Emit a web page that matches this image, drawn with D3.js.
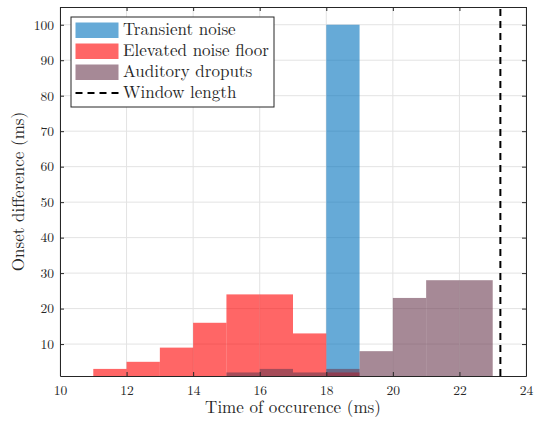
<!DOCTYPE html>
<html>
<head>
<meta charset="utf-8">
<script src="https://cdn.jsdelivr.net/npm/d3@7"></script>
<style>
  body { margin: 0; background: #fff; }
  svg text { font-family: "Latin Modern Roman", "Liberation Serif", serif; fill: #262626; }
</style>
</head>
<body>
<svg id="chart" width="534" height="422"></svg>
<script>
// histogram bins (bin start, bin end, value)
const transientBins = [[18, 19, 100]];
const elevatedBins = [[11, 12, 3], [12, 13, 5], [13, 14, 9], [14, 15, 16], [15, 16, 24], [16, 17, 24], [17, 18, 13], [18, 19, 2]];
const dropoutBins = [[15, 16, 2], [16, 17, 3], [17, 18, 2], [18, 19, 3], [19, 20, 8], [20, 21, 23], [21, 22, 28], [22, 23, 28]];
const windowLength = 23.23;
const xTicks = [10, 12, 14, 16, 18, 20, 22, 24];
const yTicks = [10, 20, 30, 40, 50, 60, 70, 80, 90, 100];
const legendNames = ["Transient noise", "Elevated noise floor", "Auditory droputs", "Window length"];

const FONT = '"Latin Modern Roman", "Liberation Serif", serif';
const margin = {left: 60, right: 8, top: 7, bottom: 46};
const width = 534, height = 422;

const svg = d3.select("#chart");

const x = d3.scaleLinear().domain([10, 24]).range([margin.left, width - margin.right]);
const y = d3.scaleLinear().domain([1, 105]).range([height - margin.bottom, margin.top]);

//grid
svg.append("g")
  .selectAll("line")
  .data(xTicks)
  .join("line")
    .attr("x1", d => x(d)).attr("x2", d => x(d))
    .attr("y1", y(1)).attr("y2", y(105))
    .attr("stroke", "#e3e3e3").attr("stroke-width", 1);
svg.append("g")
  .selectAll("line")
  .data(yTicks)
  .join("line")
    .attr("x1", x(10)).attr("x2", x(24))
    .attr("y1", d => y(d)).attr("y2", d => y(d))
    .attr("stroke", "#e3e3e3").attr("stroke-width", 1);

// bars
function drawBins(bins, color) {
  svg.append("g")
    .selectAll("rect")
    .data(bins)
    .join("rect")
      .attr("x", d => x(d[0]))
      .attr("width", d => x(d[1]) - x(d[0]))
      .attr("y", d => y(d[2]))
      .attr("height", d => y(1) - y(d[2]))
      .attr("fill", color)
      .attr("fill-opacity", 0.6);
}
drawBins(transientBins, "#0072bd");
drawBins(elevatedBins, "#ff0000");
drawBins(dropoutBins, "#6a3a50");

// window length
svg.append("line")
  .attr("x1", x(windowLength)).attr("x2", x(windowLength))
  .attr("y1", y(1)).attr("y2", y(105))
  .attr("stroke", "#000").attr("stroke-width", 2)
  .attr("stroke-dasharray", "7,5");

// axes (ticks inside, box)
const xAxis = svg.append("g")
  .attr("transform", `translate(0,${y(1)})`)
  .call(d3.axisBottom(x).tickValues(xTicks).tickSizeInner(-4).tickSizeOuter(0).tickPadding(9));
const xAxisTop = svg.append("g")
  .attr("transform", `translate(0,${y(105)})`)
  .call(d3.axisTop(x).tickValues(xTicks).tickSizeInner(-4).tickSizeOuter(0).tickFormat(""));
const yAxis = svg.append("g")
  .attr("transform", `translate(${x(10)},0)`)
  .call(d3.axisLeft(y).tickValues(yTicks).tickSizeInner(-4).tickSizeOuter(0).tickPadding(6));
const yAxisRight = svg.append("g")
  .attr("transform", `translate(${x(24)},0)`)
  .call(d3.axisRight(y).tickValues(yTicks).tickSizeInner(-4).tickSizeOuter(0).tickFormat(""));

[xAxis, xAxisTop, yAxis, yAxisRight].forEach(a => {
  a.attr("font-family", FONT);
  a.select(".domain").attr("stroke", "#262626");
  a.selectAll(".tick line").attr("stroke", "#262626");
  a.selectAll("text").style("font-size", "13.5px").attr("fill", "#262626")
    .style("font-family", FONT);
});

// axis labels
svg.append("text")
  .attr("x", (x(10) + x(24)) / 2)
  .attr("y", 413)
  .attr("text-anchor", "middle")
  .style("font-family", FONT)
  .style("font-size", "17px")
  .text("Time of occurence (ms)");
svg.append("text")
  .attr("transform", `translate(24,${(y(1) + y(105)) / 2}) rotate(-90)`)
  .attr("text-anchor", "middle")
  .style("font-family", FONT)
  .style("font-size", "17px")
  .text("Onset difference (ms)");

// legend
const legend = svg.append("g").attr("transform", "translate(71,17)");
legend.append("rect")
  .attr("width", 203).attr("height", 90)
  .attr("fill", "#fff").attr("stroke", "#262626").attr("stroke-width", 1);
const legendColors = ["#0072bd", "#ff0000", "#6a3a50"];
legendNames.forEach((name, i) => {
  const cy = 13 + i * 21;
  if (i < 3) {
    legend.append("rect")
      .attr("x", 4.5).attr("y", cy - 7.5)
      .attr("width", 43).attr("height", 15.5)
      .attr("fill", legendColors[i]).attr("fill-opacity", 0.6);
  } else {
    legend.append("line")
      .attr("x1", 4.5).attr("x2", 47.5)
      .attr("y1", cy).attr("y2", cy)
      .attr("stroke", "#000").attr("stroke-width", 2)
      .attr("stroke-dasharray", "7,5");
  }
  legend.append("text")
    .attr("x", 52).attr("y", cy + 5)
    .style("font-family", FONT)
    .style("font-size", "17px")
    .text(name);
});
</script>
</body>
</html>
